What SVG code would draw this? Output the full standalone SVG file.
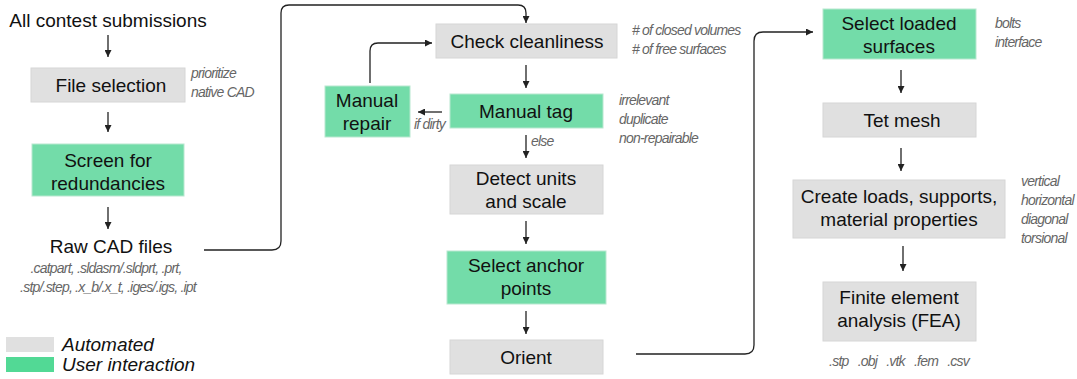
<svg xmlns="http://www.w3.org/2000/svg" width="1077" height="379" viewBox="0 0 1077 379">
<defs>
<style>
text{font-family:"Liberation Sans",Arial,sans-serif;fill:#111}
.t{font-size:19px;text-anchor:middle}
.n{font-size:14px;font-style:italic;fill:#666;letter-spacing:-0.8px}
.g{fill:#e0e0e0;stroke:#d6d6d6;stroke-width:1}
.u{fill:#73dca9;stroke:#b8e8cf;stroke-width:1}
.c{fill:none;stroke:#222;stroke-width:1.3}
.lg{font-size:19px;font-style:italic}
</style>
<marker id="ah" viewBox="0 0 10 10" refX="10" refY="5" markerWidth="7" markerHeight="7" markerUnits="userSpaceOnUse" orient="auto">
<path d="M0,0 L10,5 L0,10 z" fill="#222"/>
</marker>
</defs>
<rect width="1077" height="379" fill="#fff"/>

<g id="connectors">
<line class="c" x1="108" y1="35" x2="108" y2="57" marker-end="url(#ah)"/>
<line class="c" x1="108" y1="112" x2="108" y2="132" marker-end="url(#ah)"/>
<line class="c" x1="108" y1="207" x2="108" y2="229" marker-end="url(#ah)"/>
<path class="c" d="M204,250 H272 Q281,250 281,241 V13 Q281,5 289,5 H518 Q526,5 526,13 V23" marker-end="url(#ah)"/>
<path class="c" d="M370,83 V51 Q370,43 378,43 H432" marker-end="url(#ah)"/>
<line class="c" x1="526" y1="65" x2="526" y2="88" marker-end="url(#ah)"/>
<line class="c" x1="442" y1="112" x2="418" y2="112" marker-end="url(#ah)"/>
<line class="c" x1="526" y1="135" x2="526" y2="158" marker-end="url(#ah)"/>
<line class="c" x1="526" y1="221" x2="526" y2="244" marker-end="url(#ah)"/>
<line class="c" x1="526" y1="311" x2="526" y2="334" marker-end="url(#ah)"/>
<path class="c" d="M636,354 H745 Q754,354 754,345 V41 Q754,32 763,32 H813" marker-end="url(#ah)"/>
<line class="c" x1="901" y1="70" x2="901" y2="93" marker-end="url(#ah)"/>
<line class="c" x1="901" y1="148" x2="901" y2="171" marker-end="url(#ah)"/>
<line class="c" x1="903" y1="246" x2="903" y2="271" marker-end="url(#ah)"/>
<text class="n" x="414" y="129">if dirty</text>
<text class="n" x="531" y="146">else</text>
</g>

<g id="start"><text class="t" x="108" y="27">All contest submissions</text></g>

<g id="file-selection">
<rect class="g" x="31" y="68" width="154" height="34"/>
<text class="t" x="111" y="92">File selection</text>
<text class="n" x="191" y="78">prioritize</text>
<text class="n" x="191" y="97">native CAD</text>
</g>

<g id="screen">
<rect class="u" x="32" y="144" width="152" height="52"/>
<text class="t" x="108" y="167">Screen for</text>
<text class="t" x="108" y="190">redundancies</text>
</g>

<g id="raw-cad">
<text class="t" x="111" y="253">Raw CAD files</text>
<text class="n" x="106" y="273" text-anchor="middle">.catpart, .sldasm/.sldprt, .prt,</text>
<text class="n" x="108" y="292" text-anchor="middle">.stp/.step, .x_b/.x_t, .iges/.igs, .ipt</text>
</g>

<g id="check">
<rect class="g" x="436" y="24" width="181" height="34"/>
<text class="t" x="527" y="48">Check cleanliness</text>
<text class="n" x="632" y="35"># of closed volumes</text>
<text class="n" x="632" y="54"># of free surfaces</text>
</g>

<g id="manual-tag">
<rect class="u" x="450" y="94" width="153" height="34"/>
<text class="t" x="526" y="118">Manual tag</text>
<text class="n" x="619" y="105">irrelevant</text>
<text class="n" x="619" y="124">duplicate</text>
<text class="n" x="619" y="143">non-repairable</text>
</g>

<g id="manual-repair">
<rect class="u" x="325" y="86" width="85" height="51"/>
<text class="t" x="367" y="107">Manual</text>
<text class="t" x="367" y="130">repair</text>
</g>

<g id="detect">
<rect class="g" x="450" y="165" width="153" height="49"/>
<text class="t" x="526" y="185">Detect units</text>
<text class="t" x="526" y="208">and scale</text>
</g>

<g id="anchor">
<rect class="u" x="447" y="251" width="159" height="53"/>
<text class="t" x="526" y="272">Select anchor</text>
<text class="t" x="526" y="295">points</text>
</g>

<g id="orient">
<rect class="g" x="450" y="340" width="153" height="34"/>
<text class="t" x="526" y="364">Orient</text>
</g>

<g id="loaded">
<rect class="u" x="823" y="9" width="153" height="50"/>
<text class="t" x="899" y="30">Select loaded</text>
<text class="t" x="899" y="53">surfaces</text>
<text class="n" x="995" y="28">bolts</text>
<text class="n" x="995" y="47">interface</text>
</g>

<g id="tet">
<rect class="g" x="823" y="103" width="153" height="34"/>
<text class="t" x="902" y="127">Tet mesh</text>
</g>

<g id="loads">
<rect class="g" x="793" y="180" width="212" height="58"/>
<text class="t" x="899" y="203">Create loads, supports,</text>
<text class="t" x="899" y="226">material properties</text>
<text class="n" x="1021" y="186">vertical</text>
<text class="n" x="1021" y="205">horizontal</text>
<text class="n" x="1021" y="224">diagonal</text>
<text class="n" x="1021" y="243">torsional</text>
</g>

<g id="fea">
<rect class="g" x="823" y="282" width="153" height="59"/>
<text class="t" x="899" y="304">Finite element</text>
<text class="t" x="899" y="327">analysis (FEA)</text>
<text class="n" x="899" y="366" text-anchor="middle" xml:space="preserve" style="word-spacing:1.5px">.stp  .obj  .vtk  .fem  .csv</text>
</g>

<g id="legend">
<rect x="6" y="337" width="48" height="15" fill="#e0e0e0"/>
<text class="lg" x="62" y="351">Automated</text>
<rect x="6" y="357" width="48" height="15" fill="#52d995"/>
<text class="lg" x="62" y="371">User interaction</text>
</g>
</svg>
